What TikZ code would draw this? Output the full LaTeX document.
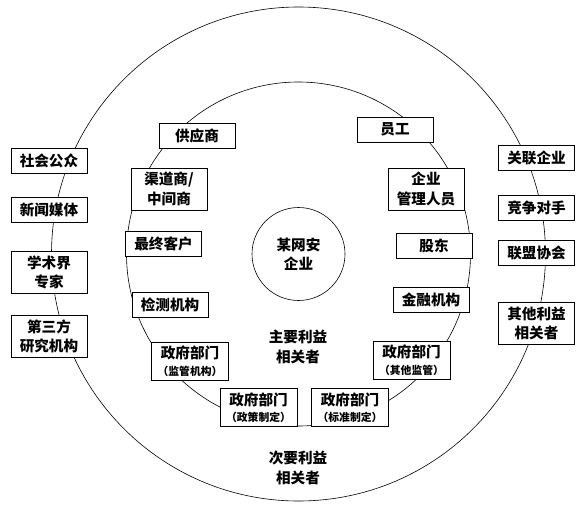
\documentclass[tikz,border=0pt]{standalone}
\usepackage{fontspec}
\setmainfont{Noto Sans CJK SC}
\usepackage{tikz}
\tikzset{
    box_one/.style={
        rectangle, draw=black, line width=1pt, fill=white,
        minimum width=76pt, minimum height=25pt, inner sep=2pt,
        align=center, font=\fontsize{14.6}{19.5}\selectfont\bfseries
    },
    box_two/.style={
        box_one, minimum height=42pt
    },
    box_gov/.style={
        box_one, minimum width=77pt, minimum height=38pt
    },
    ring_line/.style={
        draw=black, line width=0.6pt
    },
    ring_lbl/.style={
        align=center, font=\fontsize{14.6}{19.5}\selectfont\bfseries
    }
}
\newcommand{\govsub}[1]{\\[-3pt]{\fontsize{10.8}{12}\selectfont （#1）}}

\begin{document}
\begin{tikzpicture}[x=1pt, y=-1pt]
    \useasboundingbox (0,0) rectangle (587,506);

    % Rings: secondary (outer) and primary (inner)
    \coordinate (hub) at (298.5, 254);
    \draw[ring_line] (hub) circle (247pt);
    \draw[ring_line] (hub) circle (172pt);
    \node[circle, ring_line, minimum size=93pt, ring_lbl] (firm) at (hub) {某网安\\企业};

    % Ring labels
    \node[ring_lbl] (primary_lbl) at (298, 347) {主要利益\\相关者};
    \node[ring_lbl] (secondary_lbl) at (298, 468) {次要利益\\相关者};

    % Outer ring, left column
    \node[box_one] (soc_public) at (49, 161) {社会公众};
    \node[box_one] (news_media) at (49, 209.5) {新闻媒体};
    \node[box_two] (academia) at (49, 272.5) {学术界\\专家};
    \node[box_two] (third_party) at (49, 336.5) {第三方\\研究机构};

    % Outer ring, right column
    \node[box_one] (affiliate) at (536.5, 157.5) {关联企业};
    \node[box_one] (rival) at (536.5, 207.5) {竞争对手};
    \node[box_one] (alliance) at (536.5, 253) {联盟协会};
    \node[box_two] (other_stake) at (536.5, 323.5) {其他利益\\相关者};

    % Inner ring, left side
    \node[box_one] (supplier) at (197, 135.5) {供应商};
    \node[box_two] (channel) at (169, 189) {渠道商/\\中间商};
    \node[box_one] (end_client) at (163.5, 243.5) {最终客户};
    \node[box_one] (testing) at (170, 305) {检测机构};
    \node[box_gov] (gov_reg) at (190, 361) {政府部门\govsub{监管机构}};

    % Inner ring, right side
    \node[box_one] (staff) at (395, 129.5) {员工};
    \node[box_two] (managers) at (426, 189) {企业\\管理人员};
    \node[box_one] (holders) at (434, 245.5) {股东};
    \node[box_one] (finance) at (431, 299.5) {金融机构};
    \node[box_gov] (gov_other) at (411.5, 360) {政府部门\govsub{其他监管}};

    % Inner ring, bottom
    \node[box_gov] (gov_policy) at (258.5, 407.5) {政府部门\govsub{政策制定}};
    \node[box_gov] (gov_std) at (350, 407.5) {政府部门\govsub{标准制定}};
\end{tikzpicture}
\end{document}
